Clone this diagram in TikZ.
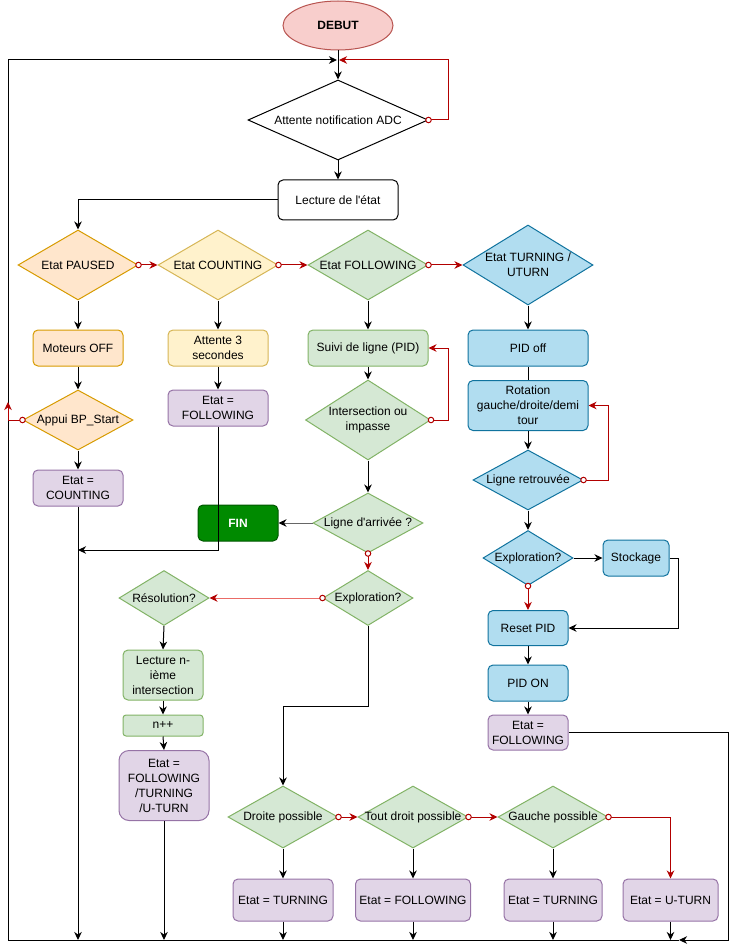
\documentclass[tikz,border=0pt]{standalone}
\usepackage{fontspec}
\setmainfont{Liberation Sans}
\usetikzlibrary{shapes.geometric,arrows.meta}
\definecolor{orF}{HTML}{FFE6CC}\definecolor{orD}{HTML}{D79B00}
\definecolor{yeF}{HTML}{FFF2CC}\definecolor{yeD}{HTML}{D6B656}
\definecolor{grF}{HTML}{D5E8D4}\definecolor{grD}{HTML}{82B366}
\definecolor{blF}{HTML}{B1DDF0}\definecolor{blD}{HTML}{10739E}
\definecolor{puF}{HTML}{E1D5E7}\definecolor{puD}{HTML}{9673A6}
\definecolor{reF}{HTML}{F8CECC}\definecolor{reD}{HTML}{B85450}
\definecolor{finF}{HTML}{008A00}\definecolor{finD}{HTML}{005700}
\definecolor{redc}{HTML}{B20000}
\definecolor{lred}{HTML}{EA6B66}
\definecolor{grayl}{HTML}{666666}
\tikzset{
  txt/.style={font=\fontsize{12}{15}\selectfont, align=center},
  D/.style n args={3}{diamond, inner sep=0pt, minimum width=#1pt, minimum height=#2pt, label={[txt]center:{#3}}},
  B/.style 2 args={rectangle, rounded corners=5pt, inner sep=0pt, minimum width=#1pt, minimum height=#2pt, txt},
  cOr/.style={fill=orF, draw=orD},
  cYe/.style={fill=yeF, draw=yeD},
  cGr/.style={fill=grF, draw=grD},
  cBl/.style={fill=blF, draw=blD},
  cPu/.style={fill=puF, draw=puD},
  ar/.style={-{Stealth[length=8pt,width=7.5pt,inset=2.5pt]}},
  rar/.style={draw=redc, {Circle[length=6.5pt,fill=white]}-{Stealth[length=8pt,width=7.5pt,inset=2.5pt]}, shorten <=-3.25pt},
  lrar/.style={draw=lred, {Circle[length=6.5pt,fill=white,color=redc]}-{Stealth[length=8pt,width=7.5pt,inset=2.5pt,color=redc]}, shorten <=-3.25pt},
}
\begin{document}
\begin{tikzpicture}[x=1pt,y=-1pt,line width=1pt]
\useasboundingbox (0,0) rectangle (738,949);

% nodes
\node[ellipse, inner sep=0pt, minimum width=110pt, minimum height=49pt, fill=reF, draw=reD, txt] (debut) at (338,25.5) {\textbf{DEBUT}};
\coordinate (j0) at (338,60);
\node[D={180}{80}{Attente notification ADC}, draw=black, fill=white] (attente) at (338,120) {};
\node[B={120}{40}, draw=black, fill=white] (lecture) at (338,200) {Lecture de l\textquotesingle état};

\node[D={120}{70}{Etat PAUSED}, cOr] (paused) at (78,265) {};
\node[D={120}{70}{Etat COUNTING}, cYe] (counting) at (218,265) {};
\node[D={120}{70}{Etat FOLLOWING}, cGr] (following) at (368,265) {};
\node[D={130}{80}{Etat TURNING /\\UTURN}, cBl] (turning) at (528,265) {};

\node[B={90}{36}, cOr] (moteurs) at (78,348) {Moteurs OFF};
\node[B={100}{36}, cYe] (att3) at (218,348) {Attente 3\\secondes};
\node[B={120}{36}, cGr] (suivi) at (368,348) {Suivi de ligne (PID)};
\node[B={120}{36}, cBl] (pidoff) at (528,348) {PID off};

\node[D={110}{60}{Appui BP\_Start}, cOr] (appui) at (78,420) {};
\node[B={100}{36}, cPu] (efol1) at (218,408) {Etat =\\FOLLOWING};
\node[D={125}{80}{Intersection ou\\impasse}, cGr] (inter) at (368,420) {};
\node[B={120}{50}, cBl] (rot) at (528,405.5) {Rotation\\gauche/droite/demi\\tour};

\node[B={90}{36}, cPu] (ecount) at (78,488) {Etat =\\COUNTING};
\node[D={110}{60}{Ligne retrouvée}, cBl] (ligret) at (528,480) {};

\node[B={80}{36}, fill=finF, draw=finD, text=white] (fin) at (238,523) {\textbf{FIN}};
\node[D={110}{60}{Ligne d\textquotesingle arrivée ?}, cGr] (arrivee) at (368,523) {};
\node[D={90}{55}{Exploration?}, cGr] (explo) at (368,598) {};
\node[D={90}{55}{Résolution?}, cGr] (resol) at (164,598) {};
\node[D={90}{55}{Exploration?}, cBl] (explo2) at (528,558) {};
\node[B={66}{36}, cBl] (stock) at (636,558) {Stockage};
\node[B={80}{35}, cBl] (reset) at (528,628) {Reset PID};
\node[B={80}{50}, cGr] (lectn) at (163,675) {Lecture n-\\ième\\intersection};
\node[B={80}{21}, cGr, rounded corners=3pt] (npp) at (163,725.5) {n++};
\node[B={90}{70}, cPu, rounded corners=10pt] (emulti) at (164,785.5) {Etat =\\FOLLOWING\\/TURNING\\/U-TURN};
\node[B={80}{36}, cBl] (pidon) at (528,683) {PID ON};
\node[B={80}{35}, cPu] (efol3) at (528,732.5) {Etat =\\FOLLOWING};

\node[D={110}{62}{Droite possible}, cGr] (droite) at (283,817) {};
\node[D={110}{62}{Tout droit possible}, cGr] (tout) at (413,817) {};
\node[D={110}{62}{Gauche possible}, cGr] (gauche) at (553,817) {};
\node[B={100}{42}, cPu] (et1) at (283,900) {Etat = TURNING};
\node[B={115}{42}, cPu] (ef4) at (413,900) {Etat = FOLLOWING};
\node[B={98}{42}, cPu] (et2) at (553,900) {Etat = TURNING};
\node[B={95}{42}, cPu] (eu) at (670.5,900) {Etat = U-TURN};

% helper coordinates
\coordinate (bR) at (679,940);
\coordinate (bL) at (8,940);
\coordinate (tL) at (8,60);
\coordinate (rc) at (728,940);
\coordinate (m1) at (78,550);
\coordinate (ap) at (8,402);

% connectors
\draw (debut.south) -- (j0);
\draw[ar] (j0) -- (attente.north);
\draw[ar] (bR) -- (bL) -- (tL) -- ([xshift=-1pt]j0);
\draw[rar] (attente.east) -| (448,60) -- ([xshift=1pt]j0);
\draw[ar] (attente.south) -- (lecture.north);
\draw[ar] (lecture.west) -| (paused.north);

\draw[rar] (paused.east) -- (counting.west);
\draw[rar] (counting.east) -- (following.west);
\draw[rar] (following.east) -- (turning.west);

\draw[ar] (paused.south) -- (moteurs.north);
\draw[ar] (moteurs.south) -- (appui.north);
\draw[ar] (appui.south) -- (ecount.north);
\draw[rar] (appui.west) -| (ap);
\draw[ar] (ecount.south) -- (ecount.south |- bL);

\draw[ar] (counting.south) -- (att3.north);
\draw[ar] (att3.south) -- (efol1.north);
\draw[ar] (efol1.south) |- (m1);

\draw[ar] (following.south) -- (suivi.north);
\draw[ar] (suivi.south) -- (inter.north);
\draw[rar] (inter.east) -- ++(17,0) |- (suivi.east);
\draw[ar] (inter.south) -- (arrivee.north);
\draw[draw=grayl, -{Stealth[length=8pt,width=7.5pt,inset=2.5pt,color=black]}] (arrivee.west) -- (fin.east);
\draw[rar] (arrivee.south) -- (explo.north);
\draw[lrar] (explo.west) -- (resol.east);
\draw[ar] (resol.south) -- (lectn.north);
\draw[ar] (lectn.south) -- (npp.north);
\draw[ar] (npp.south) -- (emulti.north);
\draw[ar] (emulti.south) -- (emulti.south |- bL);
\draw[ar] (explo.south) -- ++(0,80) -| (droite.north);

\draw[ar] (turning.south) -- (pidoff.north);
\draw (pidoff.south) -- (rot.north);
\draw[ar] (rot.south) -- (ligret.north);
\draw[rar] (ligret.east) -- ++(25,0) |- (rot.east);
\draw[ar] (ligret.south) -- (explo2.north);
\draw[ar] (explo2.east) -- (stock.west);
\draw[rar] (explo2.south) -- (reset.north);
\draw[ar] (stock.east) -- ++(9,0) |- (reset.east);
\draw[ar] (reset.south) -- (pidon.north);
\draw[ar] (pidon.south) -- (efol3.north);
\draw[ar] (efol3.east) -| (rc) -- (bR);

\draw[rar] (droite.east) -- (tout.west);
\draw[rar] (tout.east) -- (gauche.west);
\draw[rar] (gauche.east) -| (eu.north);
\draw[ar] (droite.south) -- (et1.north);
\draw[ar] (tout.south) -- (ef4.north);
\draw[ar] (gauche.south) -- (et2.north);
\draw[ar] (et1.south) -- (et1.south |- bL);
\draw[ar] (ef4.south) -- (ef4.south |- bL);
\draw[ar] (et2.south) -- (et2.south |- bL);
\draw[ar] (eu.south) -- (eu.south |- bL);
\end{tikzpicture}
\end{document}
